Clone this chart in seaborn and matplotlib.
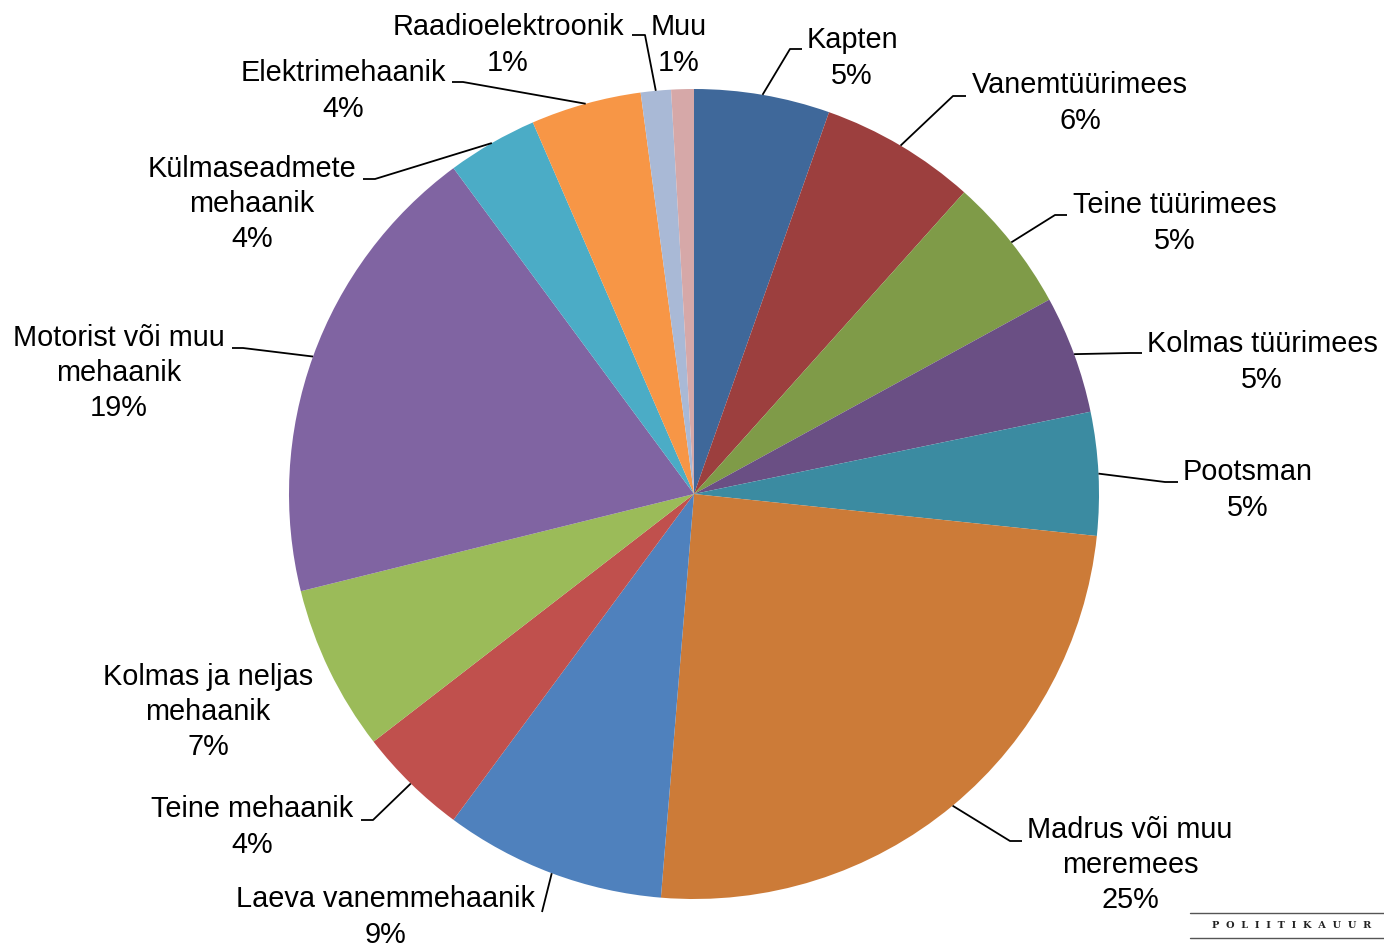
import numpy as np
import seaborn as sns
from matplotlib import pyplot as plt

# Data (share of each position, %), clockwise from the top
labels = ["Kapten", "Vanemtüürimees", "Teine tüürimees", "Kolmas tüürimees",
          "Pootsman", "Madrus või muu\nmeremees", "Laeva vanemmehaanik",
          "Teine mehaanik", "Kolmas ja neljas\nmehaanik",
          "Motorist või muu\nmehaanik", "Külmaseadmete\nmehaanik",
          "Elektrimehaanik", "Raadioelektroonik", "Muu"]
shares = [5.4, 6.2, 5.4, 4.7, 4.9, 24.6, 8.8, 4.4, 6.6, 18.7, 3.6, 4.4, 1.2, 0.9]
colors = ["#3F689A", "#9C3F3E", "#7F9B48", "#6A4F84", "#3B8BA1", "#CC7B38",
          "#4F81BD", "#C0504D", "#9BBB59", "#8064A2", "#4BACC6", "#F79646",
          "#A9B9D6", "#D6A8A8"]

# Label layout in pixels: text centre, leader elbow, leader end (None = no leader)
text_pos = [(852, 58), (1080, 103), (1175, 223), (1262, 362), (1248, 490),
            (1130, 865), (385, 917), (252, 827), (208, 712), (119, 373),
            (252, 204), (343, 91), (508, 45), (679, 45)]
leaders = [((790, 49), (802, 49)), ((953, 96), (966, 96)),
           ((1055, 215), (1067, 215)), ((1130, 353), (1142, 353)),
           ((1165, 482), (1178, 482)), ((1010, 841), (1022, 841)),
           ((542, 912), (542, 912)), ((373, 820), (361, 820)), None,
           ((243, 348), (232, 348)), ((375, 179), (363, 179)),
           ((463, 82), (452, 82)), ((645, 35), (632, 35)), None]

W, H = 1384, 952
CX, CY, R = 694, 494, 405

sns.set_theme(style="white")
plt.rcParams['font.family'] = ['Liberation Sans', 'DejaVu Sans']

fig = plt.figure(figsize=(W / 100, H / 100), dpi=100)
ax = fig.add_axes([0, 0, 1, 1])

wedges, _ = ax.pie(shares, colors=colors, startangle=-90, counterclock=True,
                   center=(CX, CY), radius=R, wedgeprops=dict(linewidth=0))

ax.set_xlim(0, W)
ax.set_ylim(H, 0)
ax.set_aspect('equal')
ax.axis('off')

total = sum(shares)
for i, w in enumerate(wedges):
    pct = shares[i] / total * 100
    tx, ty = text_pos[i]
    ax.text(tx, ty, f"{labels[i]}\n{pct:.0f}%", ha='center', va='center',
            fontsize=20.8, linespacing=1.32, color='black')
    if leaders[i] is None:
        continue
    mid = np.deg2rad((w.theta1 + w.theta2) / 2)
    sx, sy = CX + R * np.cos(mid), CY + R * np.sin(mid)
    (ex, ey), (fx, fy) = leaders[i]
    ax.plot([sx, ex, fx], [sy, ey, fy], color='black', lw=1.3,
            solid_capstyle='butt')

# Publisher logo strip at the bottom right
ax.plot([1190, W], [913, 913], color='#555555', lw=1)
ax.plot([1190, W], [938, 938], color='#555555', lw=1)
ax.text(1212, 926, "P  O  L  I  I  T  I  K  A  U  U  R", fontsize=7,
        family='DejaVu Serif', fontweight='bold', color='#222222', va='center',
        ha='left')

fig.savefig("out.png", dpi=100)
